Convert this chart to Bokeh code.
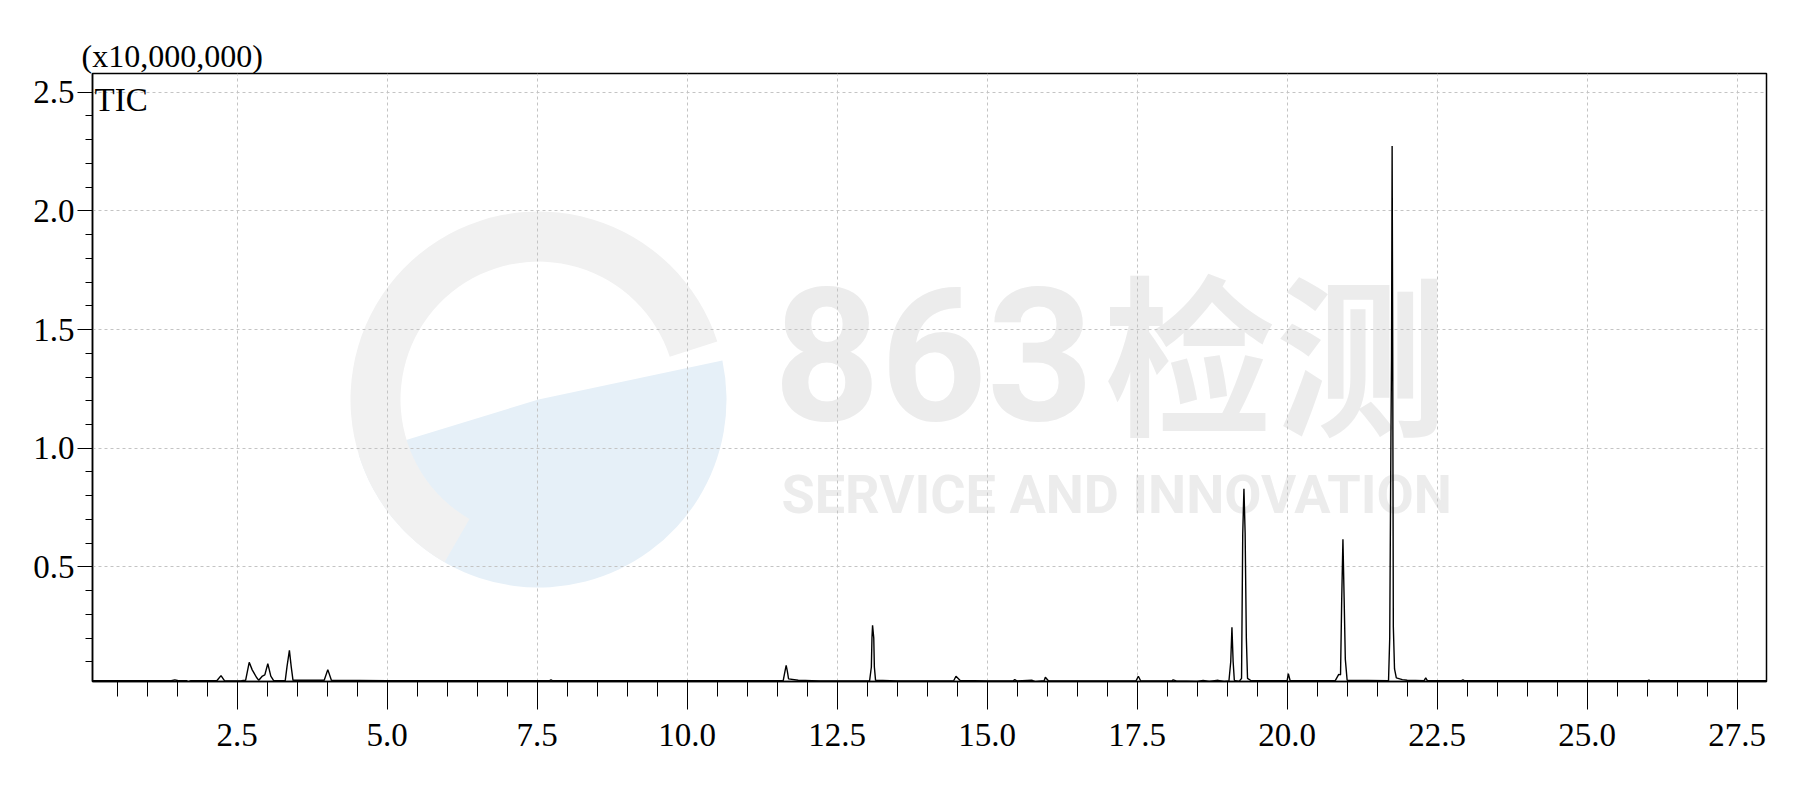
import math
from bokeh.plotting import figure
from bokeh.models import FixedTicker, Label, Title, Range1d, ColumnDataSource
from bokeh.embed import file_html
from bokeh.resources import INLINE

# ---------------- data ----------------
rt_min = [0.09, 1.40, 1.46, 1.52, 1.66, 1.68, 1.72, 2.16, 2.23, 2.29, 2.50, 2.57,
          2.64, 2.70, 2.75, 2.82, 2.86, 2.92, 2.96, 3.01, 3.06, 3.11, 3.30, 3.33,
          3.37, 3.40, 3.43, 3.95, 4.01, 4.07, 5.00, 7.70, 7.73, 7.76, 10.00, 11.60,
          11.63, 11.65, 11.67, 11.69, 11.85, 12.20, 13.04, 13.07, 13.08, 13.09, 13.11,
          13.12, 13.14, 13.50, 14.44, 14.48, 14.55, 15.00, 15.43, 15.46, 15.50, 15.75,
          15.80, 15.95, 15.97, 16.02, 16.30, 17.48, 17.52, 17.56, 18.08, 18.10, 18.15,
          18.50, 18.60, 18.70, 18.85, 18.95, 19.03, 19.06, 19.08, 19.10, 19.12, 19.20,
          19.24, 19.26, 19.28, 19.30, 19.32, 19.34, 19.40, 20.00, 20.02, 20.05, 20.80,
          20.86, 20.89, 20.91, 20.93, 20.95, 20.97, 21.00, 21.69, 21.71, 21.73, 21.74,
          21.75, 21.76, 21.77, 21.79, 21.82, 21.92, 22.00, 22.28, 22.31, 22.34, 22.90,
          22.93, 22.96, 25.00, 26.00, 26.03, 26.06, 28.00]
tic_e7 = [0.020, 0.020, 0.024, 0.020, 0.020, 0.015, 0.020, 0.020, 0.042, 0.020, 0.019, 0.020,
          0.022, 0.098, 0.066, 0.035, 0.022, 0.040, 0.045, 0.092, 0.040, 0.020, 0.020, 0.080,
          0.148, 0.080, 0.022, 0.022, 0.067, 0.022, 0.020, 0.020, 0.024, 0.020, 0.020, 0.020,
          0.060, 0.085, 0.060, 0.028, 0.022, 0.019, 0.019, 0.078, 0.200, 0.254, 0.200,
          0.078, 0.022, 0.019, 0.019, 0.039, 0.021, 0.019, 0.019, 0.025, 0.019, 0.022,
          0.016, 0.020, 0.035, 0.020, 0.019, 0.019, 0.039, 0.019, 0.019, 0.024, 0.019,
          0.017, 0.022, 0.017, 0.022, 0.017, 0.019, 0.100, 0.246, 0.100, 0.022, 0.017,
          0.030, 0.640, 0.829, 0.640, 0.200, 0.030, 0.020, 0.020, 0.050, 0.020, 0.020,
          0.047, 0.045, 0.368, 0.616, 0.368, 0.110, 0.022, 0.020, 0.200, 1.044, 1.380,
          2.274, 1.380, 0.249, 0.070, 0.032, 0.025, 0.022, 0.020, 0.032, 0.020, 0.020,
          0.024, 0.020, 0.020, 0.020, 0.023, 0.020, 0.020]

x_major = [2.5, 5.0, 7.5, 10.0, 12.5, 15.0, 17.5, 20.0, 22.5, 25.0, 27.5]
x_labels = ["2.5", "5.0", "7.5", "10.0", "12.5", "15.0", "17.5", "20.0", "22.5", "25.0", "27.5"]
x_minor = [round(0.5 * i, 1) for i in range(1, 56)]
y_major = [0.5, 1.0, 1.5, 2.0, 2.5]
y_labels = ["0.5", "1.0", "1.5", "2.0", "2.5"]
y_minor = [round(0.1 * i, 1) for i in range(1, 26)]

scale_text = "(x10,000,000)"
trace_name = "TIC"

# ---------------- layout ----------------
X0, X1 = 0.088, 27.99
Y0, Y1 = 0.017, 2.579
W, H = 1806, 793
BL, BR, BT, BB = 92, 40, 73, 112
FW, FH = W - BL - BR, H - BT - BB
FB = BT + FH  # frame bottom on the canvas
FONT = "Liberation Serif"

p = figure(width=W, height=H, output_backend="svg", toolbar_location=None,
           x_range=Range1d(X0, X1), y_range=Range1d(Y0, Y1),
           min_border_left=BL, min_border_right=BR, min_border_top=BT, min_border_bottom=BB,
           background_fill_color="white", border_fill_color="white")

p.outline_line_color = "black"
p.outline_line_width = 1.5

# ---------------- watermark (decoration) ----------------
def dx(px):  # canvas px -> data x
    return X0 + (px - BL) / FW * (X1 - X0)

def dy(py):  # canvas px (from top) -> data y
    return Y0 + (FB - py) / FH * (Y1 - Y0)

cx, cy = dx(538), dy(399)
p.wedge(x=cx, y=cy, radius=188, radius_units="screen",
        start_angle=math.radians(197), end_angle=math.radians(12),
        direction="anticlock", fill_color="#e6f0f8", line_color=None, level="image")
p.annular_wedge(x=cx, y=cy, inner_radius=138, outer_radius=188, inner_radius_units="screen",
                outer_radius_units="screen", start_angle=math.radians(18),
                end_angle=math.radians(240), direction="anticlock",
                fill_color="#f1f1f1", line_color=None, level="image")

wm_color = "#ececec"
p.add_layout(Label(x=773 - BL, y=FB - 353, x_units="screen", y_units="screen", text="863",
                   text_font="Roboto", text_font_style="bold", text_font_size="186px",
                   text_color=wm_color, text_baseline="middle", level="image"))
p.add_layout(Label(x=1103 - BL, y=FB - 346, x_units="screen", y_units="screen", text="检测",
                   text_font="Noto Sans CJK SC", text_font_style="bold",
                   text_font_size="172px", text_color=wm_color, text_baseline="middle",
                   level="image"))
p.add_layout(Label(x=781 - BL, y=FB - 494, x_units="screen", y_units="screen",
                   text="SERVICE AND INNOVATION",
                   text_font="Roboto", text_font_style="bold",
                   text_font_size="54px", text_color=wm_color, text_baseline="middle",
                   level="image"))

# ---------------- trace ----------------
src = ColumnDataSource(dict(t=rt_min, v=tic_e7))
p.line("t", "v", source=src, line_color="black", line_width=1.4)

# ---------------- axes ----------------
p.xaxis.ticker = FixedTicker(ticks=x_major, minor_ticks=x_minor)
p.yaxis.ticker = FixedTicker(ticks=y_major, minor_ticks=y_minor)
p.xaxis.major_label_overrides = dict(zip(x_major, x_labels))
p.yaxis.major_label_overrides = dict(zip(y_major, y_labels))

for ax in (p.xaxis[0], p.yaxis[0]):
    ax.axis_line_color = "black"
    ax.axis_line_width = 1.5
    ax.major_tick_line_color = "black"
    ax.minor_tick_line_color = "black"
    ax.major_tick_line_width = 1
    ax.minor_tick_line_width = 1
    ax.major_tick_in = 0
    ax.minor_tick_in = 0
    ax.major_label_text_font = FONT
    ax.major_label_text_font_size = "33px"
    ax.major_label_text_color = "black"

p.xaxis.major_tick_out = 28
p.xaxis.minor_tick_out = 15
p.xaxis.major_label_standoff = 14
p.yaxis.major_tick_out = 15
p.yaxis.minor_tick_out = 7
p.yaxis.major_label_standoff = 3

p.xgrid.ticker = FixedTicker(ticks=x_major)
p.ygrid.ticker = FixedTicker(ticks=y_major)
for g in (p.xgrid[0], p.ygrid[0]):
    g.grid_line_color = "#c4c4c4"
    g.grid_line_dash = "3 3"
    g.grid_line_width = 1

# ---------------- texts ----------------
p.add_layout(Title(text=scale_text, align="left", offset=-11, standoff=0,
                   text_font=FONT, text_font_size="32px", text_font_style="normal",
                   text_color="black"), "above")
p.add_layout(Label(x=2, y=FH - 8, x_units="screen", y_units="screen", text=trace_name,
                   text_font=FONT, text_font_size="33px", text_color="black",
                   text_baseline="top"))

open("out.html", "w").write(file_html(p, INLINE))
